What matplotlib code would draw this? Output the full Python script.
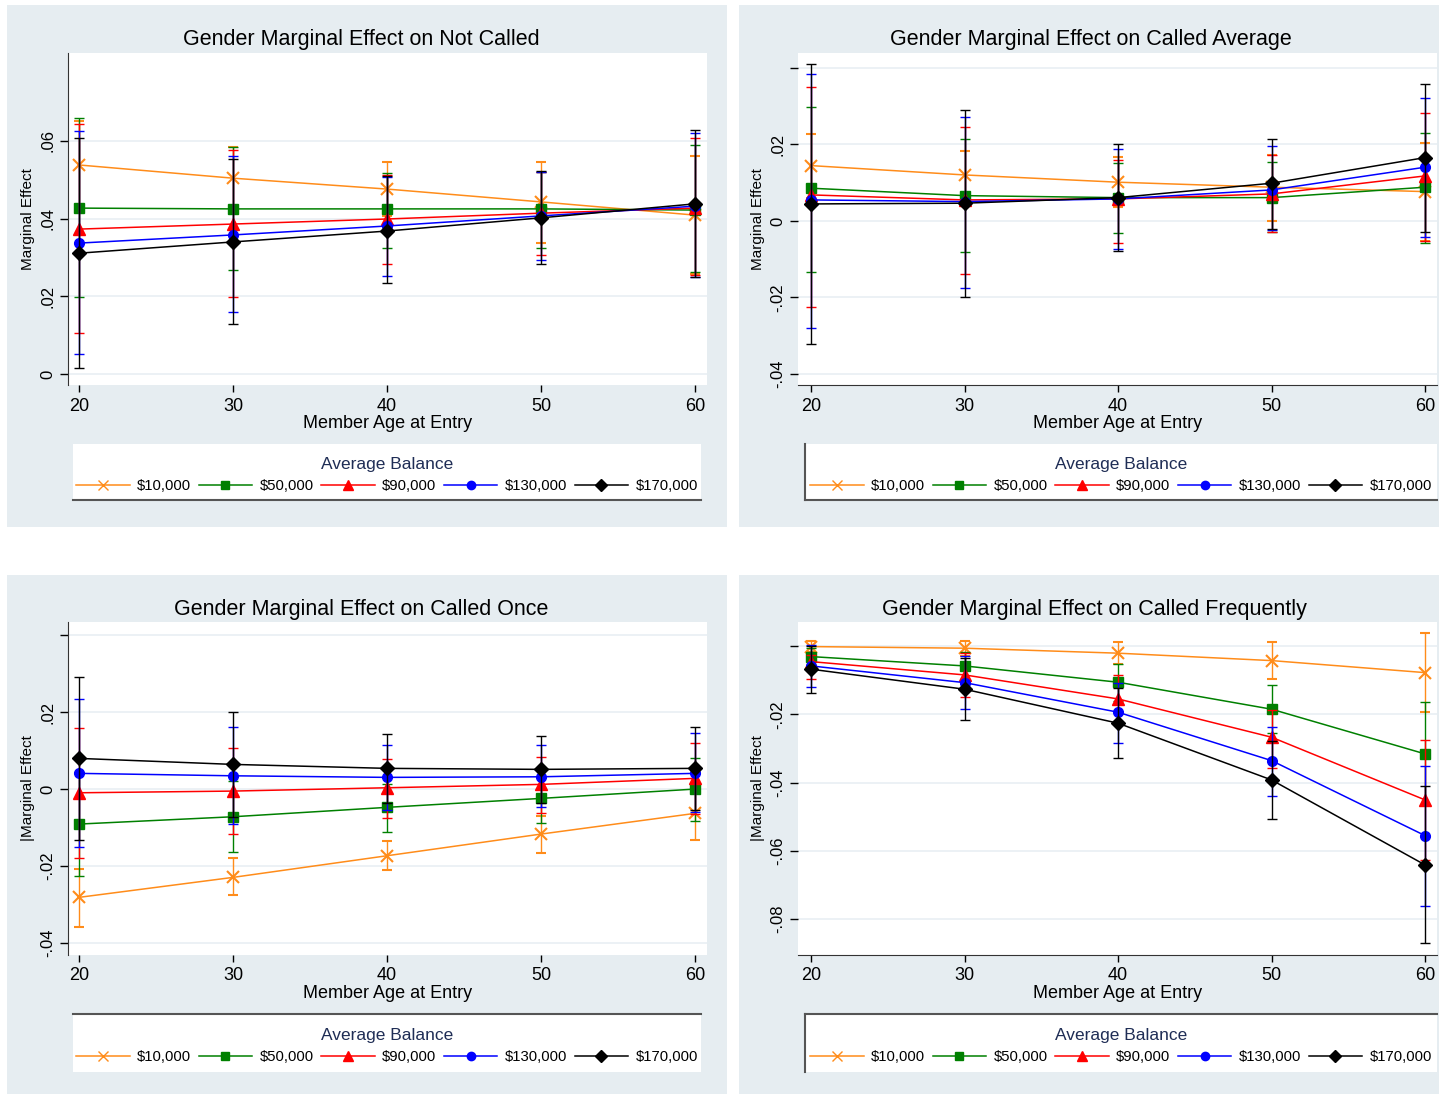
import numpy as np
import matplotlib.pyplot as plt
from matplotlib.lines import Line2D
from matplotlib.patches import Rectangle

plt.rcParams['font.family'] = ['Liberation Sans', 'DejaVu Sans']

W, H = 1439, 1094

ages = [20, 30, 40, 50, 60]
balances = ['$10,000', '$50,000', '$90,000', '$130,000', '$170,000']
colors = ['#FF8C1A', '#008000', '#FF0000', '#0000FF', '#000000']
markers = ['x', 's', '^', 'o', 'D']
msizes = [8, 7, 8, 7, 7]

# Not Called: point estimate, lower and upper CI, one row per balance
nc_mean = [[0.0538, 0.0504, 0.0476, 0.0443, 0.0409],
           [0.0427, 0.0425, 0.0425, 0.0425, 0.0422],
           [0.0373, 0.0386, 0.0399, 0.0414, 0.0427],
           [0.0337, 0.0358, 0.0381, 0.0407, 0.0432],
           [0.0311, 0.0340, 0.0368, 0.0402, 0.0438]]
nc_lo = [[0.0425, 0.0425, 0.0407, 0.0337, 0.0257],
         [0.0198, 0.0268, 0.0324, 0.0324, 0.0263],
         [0.0106, 0.0198, 0.0283, 0.0306, 0.0255],
         [0.0051, 0.0160, 0.0252, 0.0293, 0.0250],
         [0.0015, 0.0129, 0.0234, 0.0283, 0.0250]]
nc_hi = [[0.0651, 0.0584, 0.0546, 0.0546, 0.0561],
         [0.0659, 0.0584, 0.0517, 0.0520, 0.0589],
         [0.0644, 0.0577, 0.0512, 0.0520, 0.0607],
         [0.0625, 0.0561, 0.0507, 0.0520, 0.0620],
         [0.0607, 0.0553, 0.0510, 0.0523, 0.0628]]

# Called Average
ca_mean = [[0.01446, 0.01202, 0.01012, 0.00881, 0.00766],
           [0.00855, 0.00661, 0.00609, 0.00609, 0.00881],
           [0.00680, 0.00549, 0.00575, 0.00706, 0.01176],
           [0.00549, 0.00505, 0.00575, 0.00810, 0.01404],
           [0.00444, 0.00463, 0.00609, 0.00985, 0.01655]]
ca_lo = [[0.00609, 0.00567, 0.00358, 0.00008, -0.00515],
         [-0.01341, -0.00802, -0.00322, -0.00280, -0.00583],
         [-0.02240, -0.01393, -0.00583, -0.00295, -0.00523],
         [-0.02805, -0.01744, -0.00732, -0.00235, -0.00410],
         [-0.03215, -0.01979, -0.00784, -0.00209, -0.00280]]
ca_hi = [[0.02282, 0.01838, 0.01665, 0.01725, 0.02047],
         [0.02980, 0.02143, 0.01508, 0.01534, 0.02308],
         [0.03511, 0.02465, 0.01595, 0.01725, 0.02815],
         [0.03843, 0.02726, 0.01874, 0.01968, 0.03223],
         [0.04104, 0.02902, 0.02005, 0.02143, 0.03581]]

# Called Once
co_mean = [[-0.02813, -0.02294, -0.01732, -0.01169, -0.00631],
           [-0.00909, -0.00719, -0.00475, -0.00242, 0.00000],
           [-0.00096, -0.00052, 0.00034, 0.00122, 0.00278],
           [0.00408, 0.00345, 0.00304, 0.00319, 0.00408],
           [0.00797, 0.00641, 0.00538, 0.00512, 0.00538]]
co_lo = [[-0.03576, -0.02753, -0.02104, -0.01670, -0.01324],
         [-0.02252, -0.01628, -0.01109, -0.00891, -0.00823],
         [-0.01784, -0.01176, -0.00745, -0.00631, -0.00649],
         [-0.01498, -0.00909, -0.00538, -0.00460, -0.00590],
         [-0.01324, -0.00727, -0.00356, -0.00356, -0.00545]]
co_hi = [[-0.02078, -0.01784, -0.01343, -0.00693, 0.00062],
         [0.00441, 0.00216, 0.00130, 0.00319, 0.00813],
         [0.01576, 0.01057, 0.00779, 0.00839, 0.01202],
         [0.02337, 0.01602, 0.01143, 0.01143, 0.01462],
         [0.02916, 0.02007, 0.01428, 0.01376, 0.01618]]

# Called Frequently
cf_mean = [[-0.00020, -0.00067, -0.00213, -0.00430, -0.00782],
           [-0.00313, -0.00586, -0.01063, -0.01853, -0.03162],
           [-0.00460, -0.00849, -0.01552, -0.02673, -0.04509],
           [-0.00586, -0.01075, -0.01941, -0.03358, -0.05554],
           [-0.00682, -0.01268, -0.02263, -0.03924, -0.06412]]
cf_lo = [[-0.00167, -0.00293, -0.00527, -0.00975, -0.01924],
         [-0.00556, -0.01000, -0.01602, -0.02556, -0.04655],
         [-0.00975, -0.01502, -0.02263, -0.03581, -0.06266],
         [-0.01192, -0.01853, -0.02831, -0.04392, -0.07613],
         [-0.01385, -0.02167, -0.03288, -0.05074, -0.08705]]
cf_hi = [[0.00155, 0.00155, 0.00126, 0.00126, 0.00372],
         [-0.00067, -0.00167, -0.00527, -0.01142, -0.01649],
         [-0.00264, -0.00214, -0.00849, -0.01874, -0.02752],
         [0.00029, -0.00293, -0.01092, -0.02363, -0.03505],
         [0.00000, -0.00360, -0.01239, -0.02773, -0.04090]]

BG = '#E6EDF1'
GRID = '#E9EFF3'


def box(x0, y0, x1, y1):
    return [x0 / W, 1 - y1 / H, (x1 - x0) / W, (y1 - y0) / H]


fig = plt.figure(figsize=(W / 100, H / 100), dpi=100)


def panel(bg, axbox, legbox, title, title_x, mean, lo, hi, xlim, ylim, yticks,
          ylabels, ylab, left_spine, leg_spines):
    fig.patches.append(Rectangle((bg[0] / W, 1 - bg[3] / H), (bg[2] - bg[0]) / W,
                                 (bg[3] - bg[1]) / H, transform=fig.transFigure,
                                 facecolor=BG, edgecolor='none', zorder=-10))
    ax = fig.add_axes(box(*axbox))
    ax.set_facecolor('white')
    for i in range(5):
        m = np.array(mean[i])
        yerr = [m - np.array(lo[i]), np.array(hi[i]) - m]
        ax.errorbar(ages, m, yerr=yerr, color=colors[i], lw=1.1, elinewidth=1.0,
                    capsize=3.5, capthick=1.0, marker=markers[i], ms=msizes[i],
                    mew=1.5 if markers[i] == 'x' else 1, zorder=3 + i)
    ax.set_xlim(*xlim)
    ax.set_ylim(*ylim)
    ax.set_xticks(ages)
    ax.set_yticks(yticks)
    ax.set_yticklabels(ylabels, rotation=90, va='center')
    ax.tick_params(axis='x', labelsize=13, length=5, width=1, pad=4)
    ax.tick_params(axis='y', labelsize=12, length=6, width=1, pad=3)
    ax.grid(axis='y', color=GRID, lw=1.2)
    ax.set_axisbelow(True)
    for s in ['top', 'right']:
        ax.spines[s].set_visible(False)
    ax.spines['left'].set_visible(left_spine)
    ax.spines['bottom'].set_visible(not left_spine)
    ax.spines['left'].set_color('#333333')
    ax.spines['bottom'].set_color('#333333')
    ax.set_xlabel('Member Age at Entry', fontsize=13, labelpad=0)
    ax.set_ylabel(ylab, fontsize=11, labelpad=4)
    fig.text(title_x / W, 1 - (bg[1] + 34) / H, title, fontsize=15.5,
             ha='center', va='center')

    lax = fig.add_axes(box(*legbox))
    lax.set_facecolor('white')
    lax.set_xticks([])
    lax.set_yticks([])
    for s in ['top', 'bottom', 'left', 'right']:
        lax.spines[s].set_visible(s in leg_spines)
        lax.spines[s].set_color('#555555')
        lax.spines[s].set_linewidth(1.5)
    handles = [Line2D([], [], color=colors[i], marker=markers[i], ms=msizes[i] - 1,
                      lw=1.1) for i in range(5)]
    leg = lax.legend(handles, balances, loc='center', ncol=5, frameon=False,
                     title='Average Balance', fontsize=10.7, title_fontsize=12.5,
                     handlelength=3.6, columnspacing=0.5, handletextpad=0.5,
                     borderpad=0.1, bbox_to_anchor=(0.5, 0.45))
    leg.get_title().set_color('#1F2D55')
    return ax


panel((7, 5, 727, 527), (68, 53, 707, 385), (73, 444, 701, 500),
      'Gender Marginal Effect on Not Called', 361, nc_mean, nc_lo, nc_hi,
      (19.29, 60.78), (-0.0028, 0.0826), [0, 0.02, 0.04, 0.06],
      ['0', '.02', '.04', '.06'], 'Marginal Effect', True, ['bottom'])

panel((739, 5, 1439, 527), (798, 53, 1437, 385), (805, 444, 1437, 500),
      'Gender Marginal Effect on Called Average', 1091, ca_mean, ca_lo, ca_hi,
      (19.15, 60.78), (-0.0429, 0.0439), [-0.04, -0.02, 0, 0.02, 0.04],
      ['-.04', '-.02', '0', '.02', ''], 'Marginal Effect', False, ['left', 'bottom'])

panel((7, 575, 727, 1095), (68, 622, 707, 955), (73, 1014, 701, 1072),
      'Gender Marginal Effect on Called Once', 361, co_mean, co_lo, co_hi,
      (19.29, 60.78), (-0.0431, 0.0434), [-0.04, -0.02, 0, 0.02, 0.04],
      ['-.04', '-.02', '0', '.02', ''], '|Marginal Effect', True, ['top'])

panel((739, 575, 1439, 1095), (798, 622, 1437, 955), (805, 1014, 1437, 1072),
      'Gender Marginal Effect on Called Frequently', 1094, cf_mean, cf_lo, cf_hi,
      (19.15, 60.78), (-0.0905, 0.0070), [-0.08, -0.06, -0.04, -0.02, 0],
      ['-.08', '-.06', '-.04', '-.02', ''], '|Marginal Effect', False, ['top', 'left'])

fig.savefig('out.png', dpi=100, facecolor='white')
